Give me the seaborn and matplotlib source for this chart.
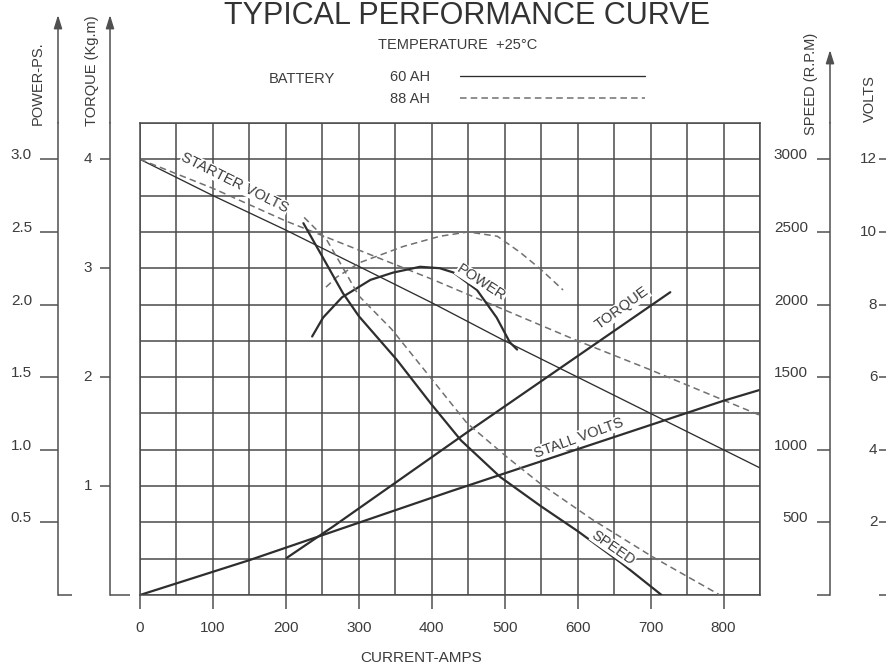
import matplotlib
matplotlib.use("Agg")
import matplotlib.pyplot as plt
from matplotlib.lines import Line2D
import seaborn as sns

# values, x = current in amps
amps_sv60 = [0, 100, 200, 300, 400, 500, 600, 700, 800, 850]
volts_sv60 = [12.0, 11.0, 10.05, 9.05, 8.05, 7.0, 6.0, 5.0, 4.0, 3.5]

amps_sv88 = [0, 100, 200, 300, 400, 500, 600, 700, 850]
volts_sv88 = [12.0, 11.2, 10.3, 9.5, 8.7, 7.85, 7.0, 6.2, 4.95]

amps_stall = [0, 150, 425, 800, 850]
volts_stall = [0.0, 0.96, 2.85, 5.35, 5.65]

amps_tq = [201, 265, 452, 727]
torque_tq = [0.34, 0.63, 1.51, 2.78]

amps_pw60 = [236, 251, 277, 316, 347, 384, 411, 430, 462, 489, 507, 517]
power_pw60 = [1.78, 1.91, 2.05, 2.17, 2.22, 2.26, 2.25, 2.22, 2.10, 1.91, 1.74, 1.69]

amps_pw88 = [255, 270, 302, 361, 411, 450, 490, 521, 550, 580]
power_pw88 = [2.12, 2.19, 2.29, 2.40, 2.47, 2.50, 2.47, 2.36, 2.24, 2.10]

amps_sp60 = [224, 250, 278, 300, 352, 400, 440, 494, 550, 600, 660, 715]
speed_sp60 = [2560, 2330, 2080, 1920, 1620, 1310, 1065, 812, 610, 440, 220, 0]

amps_sp88 = [225, 256, 274, 300, 345, 393, 448, 503, 548, 620, 703, 795]
speed_sp88 = [2600, 2445, 2290, 2060, 1830, 1530, 1185, 950, 770, 520, 262, 0]

x_ticks = [0, 100, 200, 300, 400, 500, 600, 700, 800]
power_ticks = [0.5, 1.0, 1.5, 2.0, 2.5, 3.0]
torque_ticks = [1, 2, 3, 4]
speed_ticks = [0, 500, 1000, 1500, 2000, 2500, 3000]
volt_ticks = [2, 4, 6, 8, 10, 12]

sns.set_theme(style="white")
plt.rcParams['font.family'] = ['Liberation Sans', 'DejaVu Sans']

W, H = 887, 668
fig = plt.figure(figsize=(W / 100, H / 100), dpi=100)

# grid box in pixels
L, R, T, B = 140, 760, 123, 595
ax = fig.add_axes([L / W, 1 - B / H, (R - L) / W, (B - T) / H])

ink = '#2e2e2e'
dash_c = '#707070'
axc = '#505050'
txt = '#3c3c3c'
dash = (0, (4.3, 2.7))


def fx(px):
    return (px - L) / (R - L)


def fy(py):
    return (B - py) / (B - T)


# main axes = volts scale, 13 rows
sns.lineplot(x=amps_sv60, y=volts_sv60, ax=ax, color=ink, lw=0.95, estimator=None)
sns.lineplot(x=amps_sv88, y=volts_sv88, ax=ax, color=dash_c, lw=1.1, linestyle=dash, estimator=None)
sns.lineplot(x=amps_stall, y=volts_stall, ax=ax, color=ink, lw=1.6, estimator=None)
ax.set_xlim(0, 850)
ax.set_ylim(0, 13)
ax.set_xticks(x_ticks, [str(v) for v in x_ticks])
ax.set_xticks(range(50, 851, 100), minor=True)
ax.set_yticks(range(14), [''] * 14)
ax.grid(True, which='both', color='#4a4a4a', lw=1.1)
ax.set_axisbelow(True)
for s in ax.spines.values():
    s.set_color('#4a4a4a')
    s.set_linewidth(1.1)
ax.tick_params(axis='x', which='major', direction='out', length=10, width=1.1, color=axc,
               pad=9, labelsize=11, labelcolor=txt, bottom=True)
ax.tick_params(axis='x', which='minor', length=0)
ax.tick_params(axis='y', length=0)
ax.set_xlabel('CURRENT-AMPS', fontsize=11, color=txt, va='center')
ax.xaxis.set_label_coords(fx(421), fy(658))

# torque
ax_t = ax.twinx()
sns.lineplot(x=amps_tq, y=torque_tq, ax=ax_t, color=ink, lw=1.6, estimator=None)
ax_t.set_ylim(0, 13 / 3)

# power
ax_p = ax.twinx()
sns.lineplot(x=amps_pw60, y=power_pw60, ax=ax_p, color=ink, lw=1.6, estimator=None)
sns.lineplot(x=amps_pw88, y=power_pw88, ax=ax_p, color=dash_c, lw=1.1, linestyle=dash, estimator=None)
ax_p.set_ylim(0, 13 / 4)

# speed
ax_s = ax.twinx()
sns.lineplot(x=amps_sp60, y=speed_sp60, ax=ax_s, color=ink, lw=1.6, estimator=None)
sns.lineplot(x=amps_sp88, y=speed_sp88, ax=ax_s, color=dash_c, lw=1.1, linestyle=dash, estimator=None)
ax_s.set_ylim(0, 13 * 250)

# volts scale on the far right
ax_v = ax.twinx()
ax_v.set_ylim(0, 13)


def side_axis(a, xpx, ticks, labels, tick_len, pad, va, label, lab_xy, arrow_top=None, stub=None):
    for s in a.spines.values():
        s.set_visible(False)
    sp = a.spines['left']
    sp.set_visible(True)
    sp.set_position(('axes', fx(xpx)))
    sp.set_color(axc)
    sp.set_linewidth(1.1)
    a.yaxis.set_ticks_position('left')
    a.yaxis.set_label_position('left')
    a.set_yticks(ticks, labels)
    a.tick_params(axis='y', which='major', direction='out', length=tick_len, width=1.1,
                  color=axc, pad=pad, labelsize=11, labelcolor=txt)
    if stub:
        a.set_yticks([0], minor=True)
        a.tick_params(axis='y', which='minor', direction='in', length=stub, width=1.1, color=axc)
    for t in a.get_yticklabels():
        t.set_va(va)
    a.set_ylabel(label, fontsize=10.5, color=txt, va='center', ha='center')
    a.yaxis.set_label_coords(fx(lab_xy[0]), fy(lab_xy[1]))
    if arrow_top is not None:
        a.annotate('', xy=(fx(xpx), fy(arrow_top)), xycoords='axes fraction',
                   xytext=(fx(xpx), 1.0), textcoords='axes fraction', annotation_clip=False,
                   arrowprops=dict(arrowstyle='-|>,head_length=0.8,head_width=0.25', color=axc,
                                   lw=1.1, shrinkA=0, shrinkB=0, mutation_scale=10))


side_axis(ax_p, 58, power_ticks, ['%.1f' % v for v in power_ticks], 13, 5.8, 'baseline',
          'POWER-PS.', (38, 83), arrow_top=15, stub=10)
side_axis(ax_t, 110, torque_ticks, [str(v) for v in torque_ticks], 7.2, 5.8, 'center',
          'TORQUE (Kg.m)', (92, 71), arrow_top=15, stub=14.4)
side_axis(ax_s, 830, speed_ticks, [''] + [str(v) for v in speed_ticks[1:]], 9.4, 6.5, 'baseline',
          'SPEED (R.P.M)', (811, 84), arrow_top=50)
side_axis(ax_v, 889, [0] + volt_ticks, [''] + [str(v) for v in volt_ticks], 7.2, 1.2, 'center',
          'VOLTS', (870, 99))

# curve names
lab = dict(fontsize=10.5, color=txt, ha='center', va='center', rotation_mode='anchor',
           bbox=dict(fc='white', ec='none', pad=0.3))
ax_v.text(130, 11.35, 'STARTER VOLTS', rotation=-26.5, **lab)
ax_v.text(468, 8.6, 'POWER', rotation=-33, **lab)
ax_v.text(661, 7.9, 'TORQUE', rotation=36, **lab)
ax_v.text(601, 4.32, 'STALL VOLTS', rotation=20, **lab)
ax_v.text(649, 1.3, 'SPEED', rotation=-35, **lab)

# header
fig.text(467.5 / W, 1 - 24 / H, 'TYPICAL PERFORMANCE CURVE', fontsize=22, color='#333333',
         ha='center', va='baseline')
fig.text(458 / W, 1 - 45 / H, 'TEMPERATURE  +25°C', fontsize=10.5, color=txt, ha='center', va='center')
fig.text(302 / W, 1 - 79 / H, 'BATTERY', fontsize=10.5, color=txt, ha='center', va='center')
handles = [Line2D([], [], color=ink, lw=0.95),
           Line2D([], [], color=dash_c, lw=1.1, linestyle=dash)]
ax.legend(handles, ['60 AH', '88 AH'], markerfirst=False, frameon=False, fontsize=10.5,
          labelcolor=txt, handlelength=12.7, handletextpad=2.05, labelspacing=0.55,
          borderpad=0, borderaxespad=0, loc='upper left',
          bbox_to_anchor=(390 / W, 1 - 70 / H), bbox_transform=fig.transFigure)

fig.savefig('out.png', dpi=100)
